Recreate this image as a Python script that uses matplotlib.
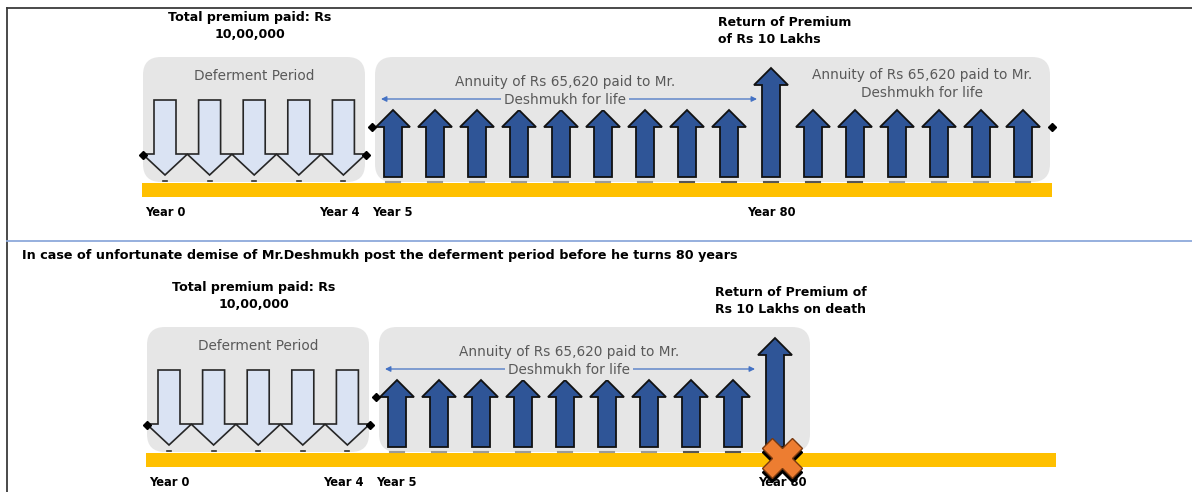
import matplotlib
matplotlib.use("Agg")
import matplotlib.pyplot as plt
from matplotlib.patches import Polygon, FancyBboxPatch, Rectangle

# ---- diagram content ----
premium_years = [0, 1, 2, 3, 4]          # premium payments (down arrows)
annuity_slots_full = 16                  # annuity slots, scenario 1 (incl. year 80)
annuity_slots_death = 10                 # annuity slots, scenario 2 (ends at year 80)
return_slot = 9                          # slot of return of premium (year 80)
year_labels = ["Year 0", "Year 4", "Year 5", "Year 80"]
premium_text = "Total premium paid: Rs\n10,00,000"
return_text_1 = "Return of Premium\nof Rs 10 Lakhs"
return_text_2 = "Return of Premium of\nRs 10 Lakhs on death"
deferment_text = "Deferment Period"
annuity_line1 = "Annuity of Rs 65,620 paid to Mr."
annuity_line2 = "Deshmukh for life"
death_heading = ("In case of unfortunate demise of Mr.Deshmukh post the deferment "
                 "period before he turns 80 years")

# ---- styles ----
GREY_BOX = "#E6E6E6"
YELLOW = "#FFC000"
DARK_BLUE = "#2F5597"
LIGHT_BLUE = "#DAE3F3"
LINE_BLUE = "#4472C4"
ORANGE = "#ED7D31"
TXT_GREY = "#595959"

fig = plt.figure(figsize=(11.92, 4.92), dpi=100)
ax = fig.add_axes([0, 0, 1, 1])
ax.set_xlim(0, 1192)
ax.set_ylim(492, 0)
ax.axis("off")


def up_arrow(xc, top, bottom, shaft_w=18, head_w=34, head_h=17):
    pts = [(xc - shaft_w / 2, bottom), (xc - shaft_w / 2, top + head_h),
           (xc - head_w / 2, top + head_h), (xc, top),
           (xc + head_w / 2, top + head_h), (xc + shaft_w / 2, top + head_h),
           (xc + shaft_w / 2, bottom)]
    ax.add_patch(Polygon(pts, closed=True, fc=DARK_BLUE, ec="#111111", lw=1.3, zorder=4))


def down_arrow(xc, top, tip, shaft_w=22, head_w=45, head_h=21):
    pts = [(xc - shaft_w / 2, top), (xc - shaft_w / 2, tip - head_h),
           (xc - head_w / 2, tip - head_h), (xc, tip),
           (xc + head_w / 2, tip - head_h), (xc + shaft_w / 2, tip - head_h),
           (xc + shaft_w / 2, top)]
    ax.add_patch(Polygon(pts, closed=True, fc=LIGHT_BLUE, ec="#262626", lw=1.2, zorder=4))


def panel(dx, dy, n_slots, death, ret_text):
    down_x = [165 + dx + 44.6 * y for y in premium_years]
    up_x = [393 + dx + 42.0 * k for k in range(n_slots)]
    box2_right = (1050 if not death else 806) + dx

    # grey rounded boxes
    ax.add_patch(FancyBboxPatch((143 + dx, 57 + dy), 222, 125,
                                boxstyle="round,pad=0,rounding_size=18",
                                fc=GREY_BOX, ec="none", zorder=1))
    ax.add_patch(FancyBboxPatch((375 + dx, 57 + dy), box2_right - 375 - dx, 125,
                                boxstyle="round,pad=0,rounding_size=18",
                                fc=GREY_BOX, ec="none", zorder=1))
    # yellow time line
    ax.add_patch(Rectangle((142 + dx, 183 + dy), 910, 13.5, fc=YELLOW, ec="none", zorder=2))

    # small tick dashes on the line
    for x in down_x:
        ax.plot([x - 2, x + 2], [181 + dy, 181 + dy], color="#333333", lw=1.2, zorder=3)
    for k, x in enumerate(up_x):
        c = "#555555" if k in (7, 8, 9, 10, 11) else "#9a9a9a"
        ax.plot([x - 7, x + 7], [181.5 + dy, 181.5 + dy], color=c, lw=1.5, zorder=3)

    # premium arrows
    for x in down_x:
        down_arrow(x, 100 + dy, 175 + dy)
    # annuity arrows + return of premium
    for k, x in enumerate(up_x):
        if k == return_slot:
            up_arrow(x, 68 + dy, 177 + dy, head_h=17)
        else:
            up_arrow(x, 110 + dy, 177 + dy)

    # end markers
    ax.plot([143 + dx, 366 + dx], [155 + dy, 155 + dy], "D", color="black", ms=4, zorder=5)
    ends = [372 + dx] + ([] if death else [1052 + dx])
    ax.plot(ends, [127 + dy] * len(ends), "D", color="black", ms=4, zorder=5)

    # texts
    ax.text(254 + dx, 76 + dy, deferment_text, ha="center", va="center",
            fontsize=9.8, color=TXT_GREY, zorder=6)
    ax.text(565 + dx, 82 + dy, annuity_line1, ha="center", va="center",
            fontsize=9.8, color=TXT_GREY, zorder=6)
    ax.annotate("", xy=(381 + dx, 99 + dy), xytext=(757 + dx - (6 if death else 0), 99 + dy),
                arrowprops=dict(arrowstyle="<|-|>", color=LINE_BLUE, lw=0.9,
                                mutation_scale=8, shrinkA=0, shrinkB=0), zorder=5)
    ax.text(565 + dx, 100 + dy, annuity_line2, ha="center", va="center",
            fontsize=9.8, color=TXT_GREY, zorder=6,
            bbox=dict(boxstyle="square,pad=0.2", fc=GREY_BOX, ec="none"))
    if not death:
        ax.text(922 + dx, 84 + dy, annuity_line1 + "\n" + annuity_line2, ha="center",
                va="center", fontsize=9.8, color=TXT_GREY, linespacing=1.3, zorder=6)

    ax.text(250 + dx, 26 + dy, premium_text, ha="center", va="center", fontsize=9.1,
            fontweight="bold", linespacing=1.4, zorder=6)
    ax.text(up_x[return_slot] - (60 if death else 53), 31 + dy, ret_text, ha="left",
            va="center", fontsize=9.0, fontweight="bold", linespacing=1.4, zorder=6)

    # year labels
    yl = 212 + dy
    ax.text(down_x[0] - 20, yl, year_labels[0], ha="left", va="center", fontsize=8.3, fontweight="bold")
    ax.text(down_x[-1] - 24, yl, year_labels[1], ha="left", va="center", fontsize=8.3, fontweight="bold")
    ax.text(up_x[0] - 21, yl, year_labels[2], ha="left", va="center", fontsize=8.3, fontweight="bold")
    ax.text(up_x[return_slot] + (7 if death else 0), yl, year_labels[3], ha="center",
            va="center", fontsize=8.3, fontweight="bold", zorder=7)

    if death:
        xc, yc = up_x[return_slot] + 7, 458 - 270 + dy
        ax.plot([xc], [yc + 4], "X", ms=29, color="black", zorder=6)
        ax.plot([xc], [yc], "X", ms=29, color=ORANGE, mec="#7a3a10", mew=1, zorder=7)


panel(0, 0, annuity_slots_full, False, return_text_1)
panel(4, 270, annuity_slots_death, True, return_text_2)

# frame lines
ax.plot([7, 1192], [8, 8], color="#3a3a3a", lw=1.3)
ax.plot([7, 7], [8, 492], color="#3a3a3a", lw=1.3)
ax.plot([7, 1192], [241, 241], color="#8EA9DB", lw=1.3)

ax.text(22, 256, death_heading, ha="left", va="center", fontsize=9.2, fontweight="bold")

fig.savefig("out.png", dpi=100)
